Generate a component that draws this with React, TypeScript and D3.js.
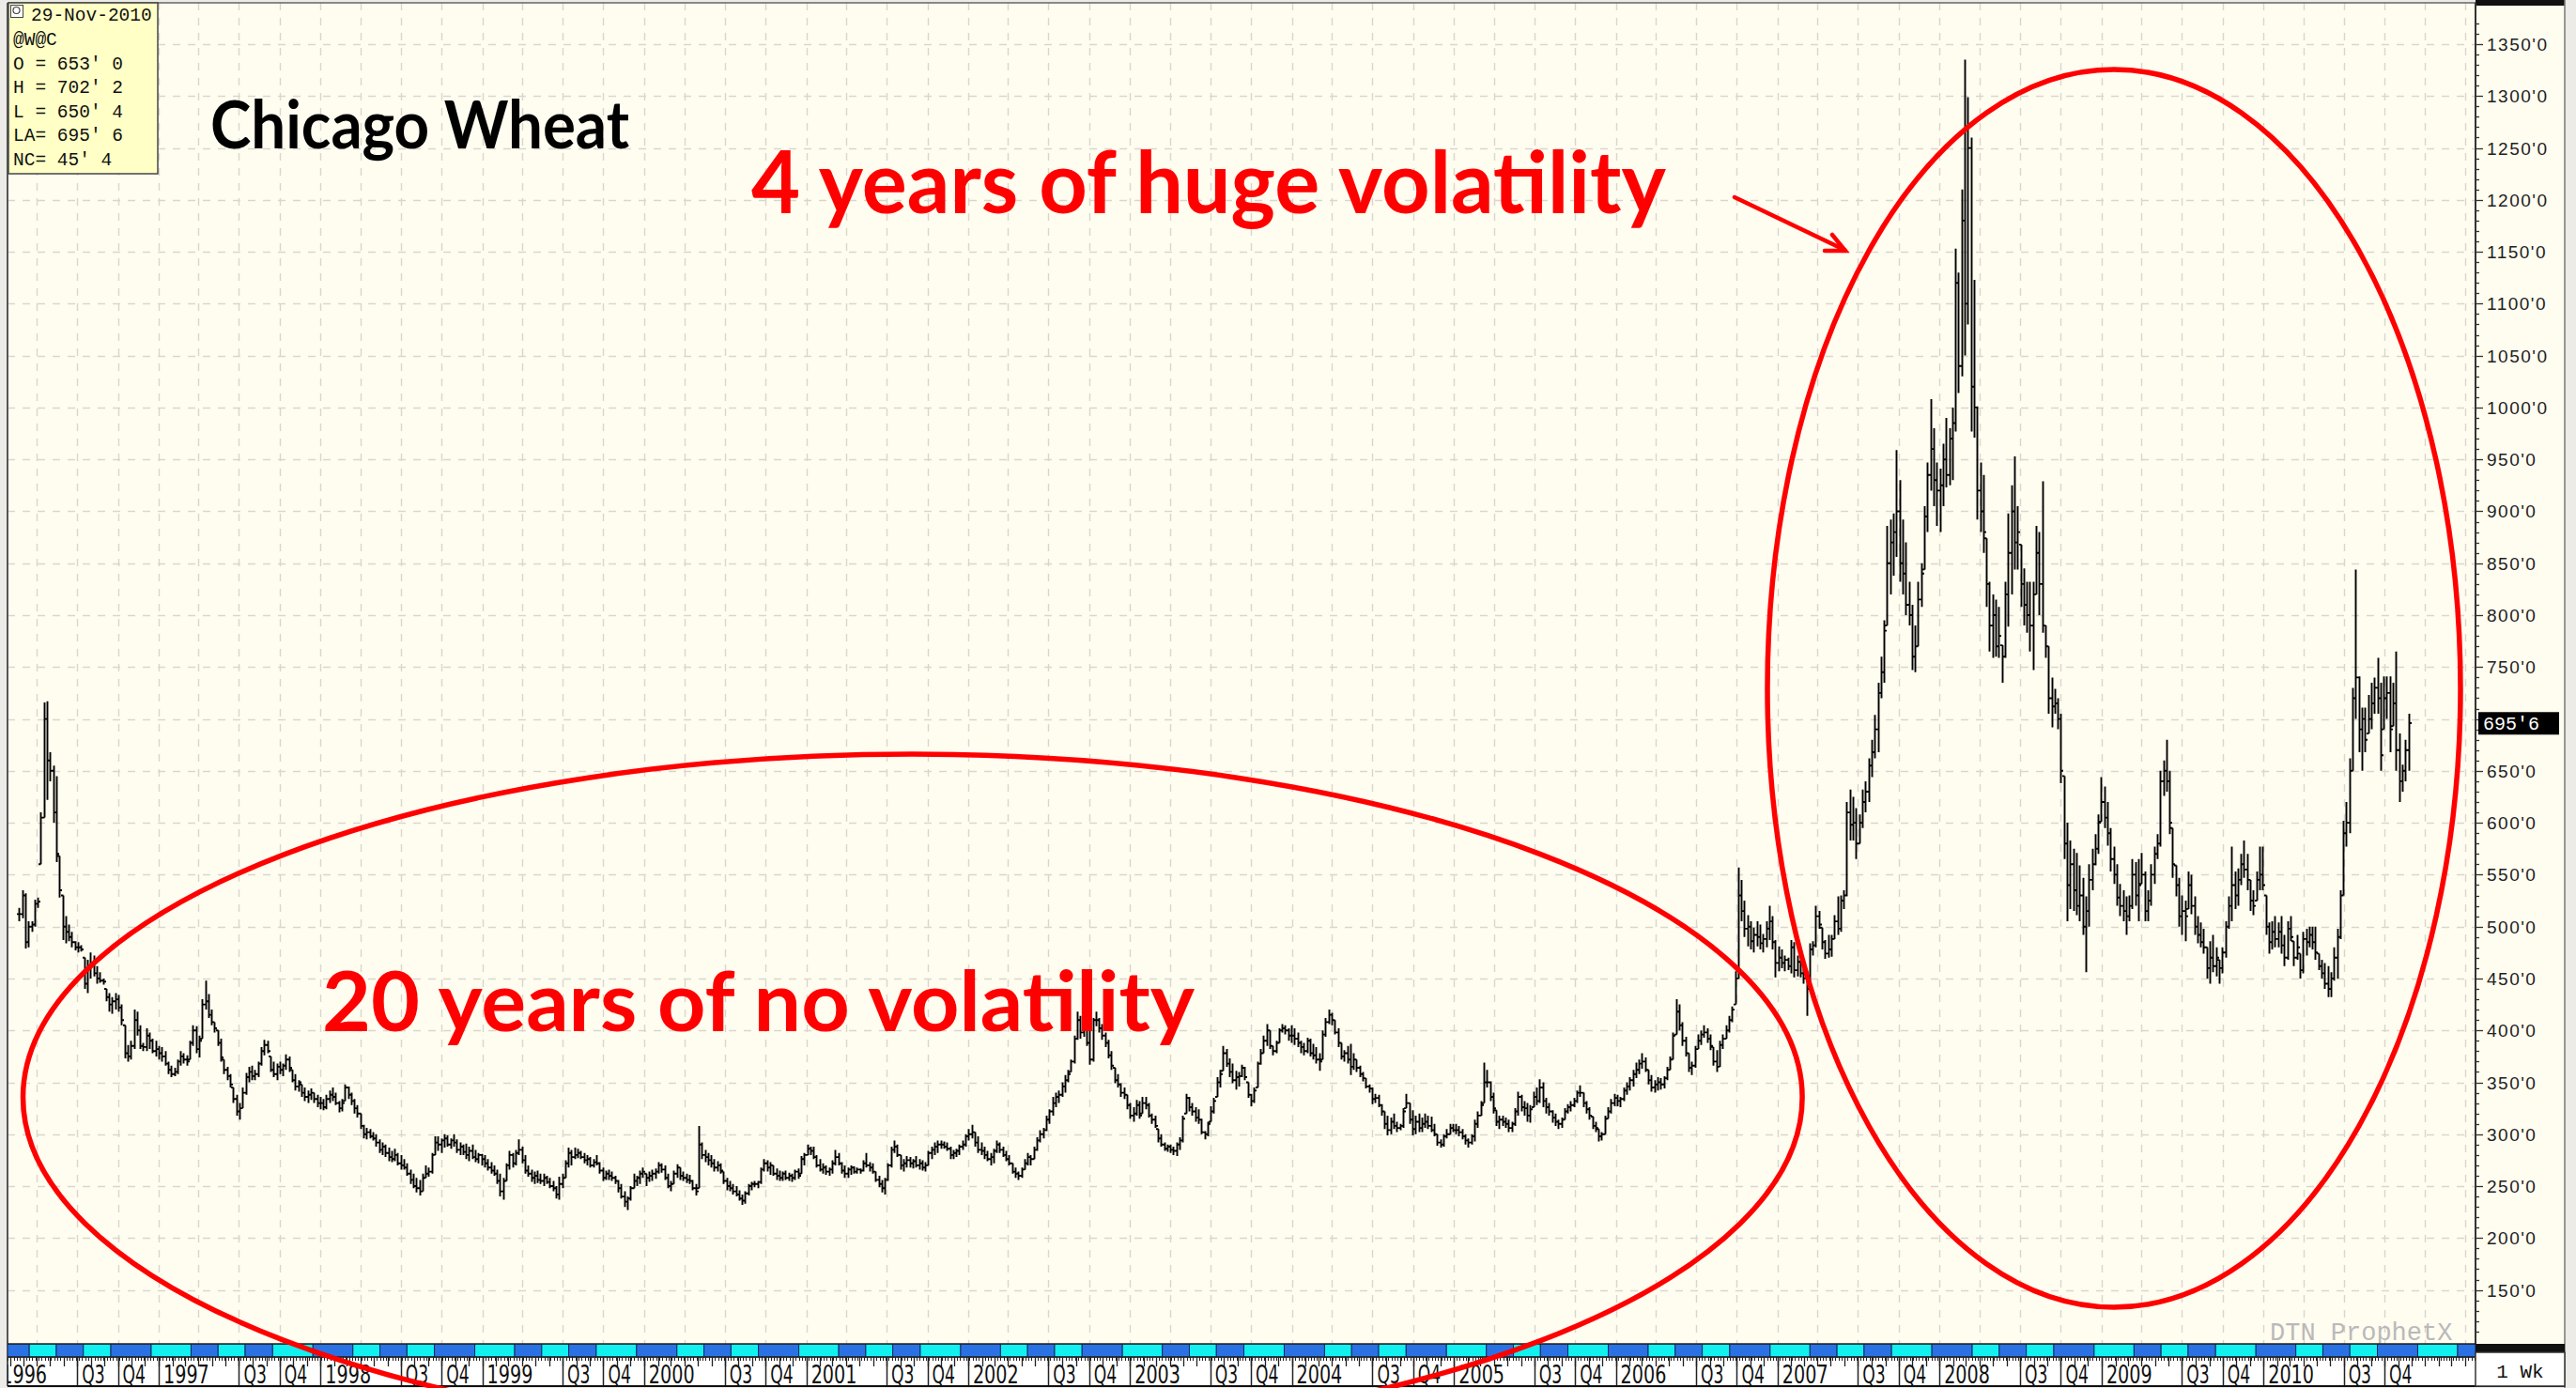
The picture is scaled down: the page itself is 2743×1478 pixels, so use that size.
import React from 'react';
import * as d3 from 'd3';

const W = 2743;
const H = 1478;

// Weekly bars, flat triples: high, low, close (cents per bushel)
const y1996 = [518,505,512, 535,508,530, 532,479,485, 505,480,500, 505,495,502, 526,500,522, 528,518,524, 610,560,605, 716,605,700, 717,622,660,
668,640,650, 655,600,610, 645,562,570, 568,528,535, 530,487,500, 510,484,495, 502,486,490, 495,480,485, 486,477,480, 485,475,480,
482,476,478, 470,440,445, 468,436,460, 475,450,465, 472,452,455, 462,445,450, 456,446,448, 450,444,447, 440,428,432, 436,418,425,
432,416,428, 436,420,430, 434,418,422, 425,405,410, 405,373,378, 386,370,375, 390,372,385, 420,382,410, 418,395,400, 405,382,385,
388,380,384, 402,380,395, 398,382,390, 392,378,380, 390,375,382];
const y1997 = [385,372,378, 384,370,375, 380,366,368, 370,358,362, 366,355,358, 364,356,360, 372,358,370, 380,366,375, 378,368,372, 376,366,370,
390,372,388, 405,385,400, 404,378,382, 395,374,390, 430,392,425, 448,420,428, 435,412,415, 420,405,408, 408,398,402, 400,385,388,
392,370,374, 372,358,362, 365,352,356, 358,345,348, 345,330,334, 338,318,322, 330,314,325, 345,325,340, 359,338,355, 365,350,360,
366,352,356, 362,352,358, 370,355,368, 384,366,380, 391,376,386, 390,378,380, 375,360,362, 370,355,358, 368,352,365, 370,358,362,
368,356,366, 377,362,372, 375,360,364, 362,350,352, 358,342,346, 352,341,350, 348,336,340, 345,332,336, 342,330,338, 344,333,340,
340,330,334, 338,326,330];
const y1998 = [336,324,330, 334,323,326, 338,324,334, 342,330,338, 345,332,336, 340,328,330, 332,321,325, 334,322,330, 348,332,345, 346,334,338,
340,328,332, 334,320,325, 328,316,320, 320,305,308, 309,296,300, 306,295,302, 305,296,298, 302,294,296, 300,288,292, 295,282,285,
292,280,288, 290,278,282, 287,274,278, 284,273,276, 286,274,280, 282,270,272, 280,266,270, 276,266,268, 272,260,262, 266,252,256,
262,248,250, 258,244,248, 256,241,245, 262,245,258, 270,258,262, 268,259,264, 282,262,280, 298,280,292, 298,284,290, 296,282,294,
300,287,296, 299,288,290, 296,286,294, 300,288,292, 295,282,285, 292,280,288, 290,280,283, 291,276,280, 288,274,284, 290,276,278,
285,273,276, 282,272,280];
const y1999 = [281,270,276, 280,268,272, 276,265,268, 273,262,265, 270,260,262, 266,252,255, 262,240,245, 258,237,255, 272,255,270, 284,266,280,
282,268,272, 285,270,282, 295,280,285, 288,272,275, 280,262,265, 270,259,262, 266,254,258, 264,252,260, 265,253,256, 262,252,255,
262,250,258, 260,252,254, 258,248,250, 255,245,248, 250,238,242, 259,237,252, 262,248,258, 275,258,272, 287,268,282, 285,270,278,
287,276,280, 286,277,282, 284,276,278, 282,272,275, 280,270,276, 278,268,270, 276,268,273, 280,270,272, 273,262,265, 268,255,258,
265,256,262, 266,256,260, 264,255,258, 260,252,255, 256,244,248, 252,238,240, 245,230,235, 240,227,238, 250,236,248, 262,248,255,
260,250,258, 265,252,262, 268,258,264];
const y2000 = [262,250,258, 264,254,260, 266,255,262, 267,257,264, 273,262,270, 272,263,266, 270,256,258, 262,248,250, 255,245,252, 265,252,262,
271,258,268, 268,256,260, 264,255,258, 262,253,256, 261,252,255, 256,246,248, 252,241,245, 308,248,290, 292,276,280, 285,273,278,
282,270,275, 280,268,272, 276,264,268, 274,264,270, 272,262,265, 264,252,255, 258,246,250, 255,245,248, 252,242,245, 250,240,242,
246,236,238, 242,232,236, 245,233,243, 252,241,250, 254,246,252, 255,249,252, 255,248,254, 268,252,266, 276,264,272, 275,264,268,
273,261,270, 270,260,262, 267,256,260, 265,255,258, 264,255,262, 265,256,258, 263,255,260, 262,254,258, 266,256,264, 267,257,260,
279,262,276, 282,270,280];
const y2001 = [290,280,286, 288,280,284, 288,276,278, 280,268,270, 276,264,266, 272,262,268, 270,261,264, 268,260,266, 275,262,272, 285,270,278,
282,270,272, 273,262,265, 270,258,262, 268,258,266, 270,261,268, 269,262,264, 268,262,266, 267,262,265, 275,264,272, 282,268,270,
273,264,268, 272,262,264, 264,254,256, 260,249,252, 256,244,248, 258,242,256, 272,255,270, 288,268,285, 294,282,288, 290,278,280,
280,266,270, 276,264,272, 279,268,275, 278,268,272, 276,267,274, 279,268,270, 276,266,272, 275,265,268, 273,264,270, 284,270,282,
288,276,285, 292,280,288, 294,282,290, 294,286,290, 293,286,288, 292,284,286, 288,276,280, 285,276,282, 286,278,284, 290,280,288,
294,285,290, 300,288,298];
const y2002 = [305,294,300, 309,296,302, 302,288,292, 298,282,285, 292,280,284, 288,276,280, 284,274,276, 282,270,278, 286,272,284, 294,282,290,
292,282,285, 288,278,280, 284,274,276, 280,270,272, 272,262,264, 268,258,262, 264,256,260, 268,258,266, 276,266,272, 282,270,278,
280,270,276, 288,276,285, 297,284,294, 304,292,300, 306,296,304, 318,303,314, 324,310,322, 336,318,330, 340,326,336, 342,330,338,
350,336,346, 357,340,352, 362,350,358, 372,360,370, 395,368,392, 418,391,410, 414,392,398, 412,394,405, 406,385,388, 400,367,372,
412,370,410, 418,404,410, 412,398,402, 406,391,395, 398,384,388, 391,373,376, 380,362,366, 364,349,352, 358,345,348, 349,336,340,
345,334,338, 338,324,328];
const y2003 = [330,315,318, 326,312,320, 333,318,328, 332,315,318, 336,320,330, 336,324,328, 330,316,318, 320,310,314, 318,306,308, 305,292,296,
300,288,290, 292,284,286, 290,283,288, 290,282,285, 288,280,284, 292,279,290, 297,285,294, 318,292,315, 339,320,335, 336,322,326,
330,318,322, 326,312,316, 324,310,314, 315,300,302, 303,295,300, 312,298,310, 327,312,322, 335,320,332, 355,336,350, 362,345,358,
385,361,378, 382,365,368, 373,355,360, 368,349,352, 361,343,355, 360,346,356, 367,355,364, 365,352,355, 350,335,338, 339,327,332,
345,330,342, 370,345,368, 382,367,378, 395,378,390, 406,385,400, 400,382,385, 385,376,380, 390,378,388, 402,388,400, 406,398,402,
405,396,400, 402,390,395];
const y2004 = [405,388,395, 402,386,392, 398,384,388, 390,378,384, 388,376,380, 393,378,390, 392,375,378, 387,372,376, 384,368,372, 378,361,370,
400,372,396, 412,394,408, 420,406,415, 417,405,410, 410,396,398, 402,384,388, 388,372,375, 381,370,378, 385,368,372, 387,357,365,
378,362,372, 372,360,364, 366,355,358, 360,351,354, 354,344,346, 348,340,344, 345,329,334, 339,330,335, 338,326,328, 329,318,322,
322,305,310, 318,299,304, 316,300,312, 320,305,308, 312,302,306, 310,304,308, 325,306,322, 339,325,330, 330,310,314, 323,299,305,
318,300,312, 320,302,306, 316,302,310, 320,306,312, 318,305,308, 317,302,304, 310,298,300, 300,289,292, 295,287,290, 300,288,298,
305,296,300, 310,300,306, 310,302,304];
const y2005 = [310,300,304, 308,298,302, 305,295,298, 300,290,294, 296,287,292, 300,290,298, 314,293,310, 322,306,318, 332,318,328, 369,330,350,
362,345,350, 351,332,336, 340,320,325, 323,308,312, 318,305,314, 318,308,312, 316,306,310, 314,302,306, 312,302,310, 325,308,322,
341,318,336, 338,322,326, 332,318,325, 330,312,318, 328,311,324, 341,326,336, 345,328,332, 353,330,345, 350,326,332, 335,320,326,
330,318,322, 323,311,316, 320,308,312, 314,305,310, 316,306,314, 325,314,322, 329,320,326, 332,322,328, 335,326,332, 342,330,340,
347,336,340, 340,326,330, 332,320,324, 326,314,318, 317,305,308, 312,302,306, 305,293,298, 302,294,300, 318,300,315, 326,315,322,
334,320,330, 339,327,335];
const y2006 = [338,327,332, 336,326,334, 345,332,342, 350,338,346, 355,342,352, 362,346,358, 369,354,362, 372,358,368, 378,363,370, 374,360,362,
362,348,352, 357,341,345, 352,340,348, 355,342,350, 354,343,348, 356,344,354, 365,352,362, 375,362,372, 398,372,395, 430,396,418,
425,400,405, 408,385,390, 394,375,378, 378,360,364, 370,357,366, 385,364,382, 396,382,390, 400,386,396, 405,393,398, 402,388,392,
396,381,385, 384,366,370, 381,360,365, 390,365,386, 396,382,392, 405,392,400, 414,398,410, 423,408,420, 457,425,450, 557,450,530,
545,505,515, 525,490,498, 511,481,500, 505,478,486, 499,475,492, 505,481,490, 502,478,484, 493,475,488, 505,480,498, 520,487,505,
510,478,485, 487,451,465];
const y2007 = [481,457,470, 478,460,465, 472,457,468, 470,458,462, 487,455,480, 485,451,458, 472,452,466, 468,451,455, 459,445,450, 457,414,440,
484,440,478, 486,472,482, 520,480,510, 515,498,502, 499,478,485, 487,469,474, 492,470,478, 492,471,488, 511,488,505, 529,492,498,
530,495,525, 535,517,530, 620,529,610, 632,583,598, 625,583,600, 614,565,580, 608,580,600, 632,595,620, 640,610,630, 662,620,655,
680,644,668, 704,662,690, 735,668,725, 760,720,745, 795,735,785, 886,790,850, 892,820,870, 898,838,880, 959,856,900, 930,832,850,
892,820,840, 870,800,810, 832,790,800, 810,747,760, 790,745,770, 832,770,815, 850,808,840, 905,844,895, 947,880,935, 1008,920,960,
980,905,930, 947,886,920];
const y2008 = [941,880,925, 965,905,950, 990,923,935, 980,925,970, 1000,930,985, 1153,977,1120, 1130,1014,1040, 1210,1030,1180, 1335,1050,1100, 1299,1080,1250,
1260,977,1020, 1123,971,1000, 1001,892,920, 947,880,900, 935,860,880, 874,808,830, 832,765,790, 820,759,800, 815,760,770, 808,759,780,
771,735,760, 832,759,820, 898,789,860, 925,820,900, 953,844,870, 905,844,880, 868,808,830, 845,790,810, 832,783,800, 832,765,790,
832,747,820, 886,820,860, 880,800,830, 929,783,790, 790,759,770, 770,705,720, 740,692,712, 729,705,715, 720,690,700, 705,638,650,
645,565,580, 600,505,540, 583,517,560, 575,515,535, 571,511,520, 559,505,530, 547,492,500, 529,456,515, 560,500,545, 575,535,560,
589,559,575, 608,570,600];
const y2009 = [644,601,620, 635,595,605, 620,578,590, 595,553,565, 577,541,550, 560,520,528, 541,510,520, 535,505,515, 529,492,510, 530,505,520,
565,517,550, 562,520,530, 565,505,540, 571,541,550, 553,505,515, 535,505,525, 560,520,550, 577,541,570, 589,565,580, 650,577,640,
660,626,650, 680,630,640, 650,589,600, 595,547,560, 559,529,540, 547,500,510, 530,492,515, 525,486,510, 553,517,540, 550,512,520,
529,492,500, 510,484,492, 504,480,485, 498,474,480, 480,450,460, 486,445,470, 492,456,462, 480,452,470, 468,445,460, 480,455,475,
505,470,500, 529,498,520, 577,505,540, 553,517,530, 556,520,545, 570,540,560, 583,547,555, 570,535,545, 545,515,525, 535,511,520,
553,525,545, 577,535,550];
const y2010 = [577,535,540, 530,492,500, 504,474,485, 505,478,495, 510,480,488, 504,480,495, 510,474,482, 492,462,470, 505,468,498, 510,486,490,
486,462,470, 492,468,480, 474,450,458, 495,455,488, 498,472,485, 500,480,492, 500,478,485, 500,468,475, 474,458,462, 468,450,455,
465,440,445, 462,432,440, 456,432,450, 480,448,470, 498,450,490, 535,488,530, 602,530,590, 620,577,600, 662,590,650, 730,650,720,
844,700,740, 741,668,690, 711,650,700, 711,668,680, 723,686,700, 735,690,715, 740,705,730, 759,705,720, 735,650,665, 741,690,720,
741,700,725, 741,668,690, 735,693,715, 765,650,670, 686,620,640, 656,630,650, 680,640,670, 705,650,696];

const yearlyBars = [y1996, y1997, y1998, y1999, y2000, y2001, y2002, y2003, y2004, y2005, y2006, y2007, y2008, y2009, y2010];
const firstYear = 1996;
const firstBarDate = new Date(1996, 1, 23);

const priceTicks = d3.range(150, 1351, 50);
const quarterNames = ['', '', 'Q3', 'Q4'];
const contractRollMonths = [2, 4, 6, 8, 11]; // H K N U Z
const infoDate = '29-Nov-2010';
const infoLines = ['@W@C', "O = 653' 0", "H = 702' 2", "L = 650' 4", "LA= 695' 6", "NC= 45' 4"];
const lastPrice = 695.75;
const lastPriceLabel = "695'6";
const lastAxisLabelDate = new Date(2010, 9, 1);
const title = 'Chicago Wheat';
const note1 = '4 years of huge volatility';
const note2 = '20 years of no volatility';

// layout
const PL = 8, PR = 2636, PT = 3, PB = 1431;
const STRIP_B = 1445, AXIS_B = 1476, PANEL_R = 2731;

export default function App() {
  const x = d3.scaleTime().domain([new Date(1997, 0, 1), new Date(2010, 0, 1)]).range([169, 2410.2]);
  const y = d3.scaleLinear().domain([150, 1350]).range([1373.6, 47]);
  const d0 = x.invert(PL);
  const d1 = x.invert(PR);

  // bars
  let path = '';
  let prevClose: number | null = null;
  yearlyBars.forEach((arr, yi) => {
    const start = yi === 0 ? firstBarDate : d3.timeFriday.ceil(new Date(firstYear + yi, 0, 1));
    for (let i = 0; i < arr.length / 3; i++) {
      const hi = arr[i * 3], lo = arr[i * 3 + 1], cl = arr[i * 3 + 2];
      const op = prevClose === null ? cl : Math.max(lo, Math.min(hi, prevClose));
      const dt = d3.timeDay.offset(start, i * 7 - 2);
      const bx = Math.round(x(dt)) + 0.5;
      path += `M${bx},${y(hi).toFixed(1)}V${y(lo).toFixed(1)}`;
      path += `M${bx - 2.5},${y(op).toFixed(1)}H${bx}`;
      path += `M${bx},${y(cl).toFixed(1)}H${bx + 2.5}`;
      prevClose = cl;
    }
  });

  const quarters = d3.timeMonth.every(3)!.range(d0, d1);
  const months = d3.timeMonth.range(d0, d1);
  const weeks = d3.timeFriday.range(d0, d1);

  // contract strip
  const rolls: Date[] = [];
  for (let yr = 1996; yr <= 2011; yr++) {
    contractRollMonths.forEach((m) => rolls.push(new Date(yr, m, 15)));
  }
  const rollIn = rolls.filter((r) => r > d0 && r < d1);
  const edges = [PL, ...rollIn.map((r) => x(r)), PR];
  const stripSegs = edges.slice(0, -1).map((e, i) => ({ x0: e, x1: edges[i + 1], c: i % 2 === 0 ? '#2a72e4' : '#12f0f0' }));

  // axis label separators at Jan, Jul, Oct
  const seps = months.filter((m) => (m.getMonth() === 0 || m.getMonth() === 6 || m.getMonth() === 9) && m <= lastAxisLabelDate);
  const sepsAll = [new Date(1996, 0, 1), ...seps];

  const labelFont = "'DejaVu Sans Condensed', 'DejaVu Sans', sans-serif";
  const monoFont = "'Liberation Mono', 'DejaVu Sans Mono', monospace";
  const yLast = y(lastPrice);

  return (
    <svg width={W} height={H} style={{ position: 'absolute', left: 0, top: 0, display: 'block' }} xmlns="http://www.w3.org/2000/svg">
      <defs>
        <clipPath id="plotClip"><rect x={PL} y={PT} width={PR - PL} height={PB - PT} /></clipPath>
        <clipPath id="axisClip"><rect x={PL} y={PB} width={PR - PL} height={H - PB} /></clipPath>
      </defs>
      <rect x={0} y={0} width={W} height={H} fill="#ecebe7" />
      <rect x={PL} y={PT} width={PR - PL} height={PB - PT} fill="#fffcf0" />
      <g clipPath="url(#plotClip)" stroke="#d9d6cd" strokeWidth={1.4} strokeDasharray="8 8">
        {priceTicks.map((v) => (
          <line key={'h' + v} x1={PL} x2={PR} y1={Math.round(y(v)) + 0.5} y2={Math.round(y(v)) + 0.5} />
        ))}
        {quarters.map((q) => (
          <line key={'v' + q.getTime()} x1={Math.round(x(q)) + 0.5} x2={Math.round(x(q)) + 0.5} y1={PT} y2={PB} />
        ))}
      </g>
      <g clipPath="url(#plotClip)">
        <path d={path} fill="none" stroke="#000" strokeWidth={1.9} />
      </g>
      <line x1={PL} x2={PL} y1={PT} y2={AXIS_B} stroke="#555" strokeWidth={2} />
      <line x1={PL} x2={PR} y1={PT} y2={PT} stroke="#666" strokeWidth={1.5} />
      <text x={2417} y={1427} fontFamily={monoFont} fontSize={27} fill="#b9b9b9">DTN ProphetX</text>

      {/* right price panel */}
      <rect x={PR} y={PT} width={PANEL_R - PR} height={PB - PT} fill="#fffcf0" />
      <rect x={PR} y={0} width={PANEL_R - PR} height={6} fill="#111" />
      <line x1={PR} x2={PR} y1={PT} y2={PB} stroke="#333" strokeWidth={2} />
      <line x1={PANEL_R} x2={PANEL_R} y1={0} y2={H} stroke="#777" strokeWidth={1.5} />
      <g stroke="#333" strokeWidth={1.3}>
        {d3.range(110, 1371, 10).map((v) => (
          <line key={'t' + v} x1={PR} x2={PR + (v % 50 === 0 ? 8 : 4)} y1={Math.round(y(v)) + 0.5} y2={Math.round(y(v)) + 0.5} />
        ))}
      </g>
      <g fontFamily="'Liberation Sans', Arial, sans-serif" fontSize={19} fill="#222" letterSpacing={1.5}>
        {priceTicks.filter((v) => Math.abs(y(v) - yLast) > 16).map((v) => (
          <text key={'l' + v} x={PR + 12} y={y(v) + 7}>{`${v}'0`}</text>
        ))}
      </g>
      <rect x={PR + 3} y={yLast - 12} width={86} height={24} fill="#000" />
      <text x={PR + 8} y={yLast + 7} fontFamily={monoFont} fontSize={20} fill="#fff">{lastPriceLabel}</text>

      {/* contract strip */}
      <g clipPath="url(#axisClip)">
        {stripSegs.map((s, i) => (
          <rect key={'s' + i} x={s.x0} y={PB} width={s.x1 - s.x0} height={STRIP_B - PB} fill={s.c} stroke="#0b2a60" strokeWidth={1} />
        ))}
      </g>
      <line x1={PL} x2={PR} y1={PB} y2={PB} stroke="#222" strokeWidth={1.5} />
      <line x1={PL} x2={PR} y1={STRIP_B} y2={STRIP_B} stroke="#222" strokeWidth={1.5} />
      <rect x={PL + 1} y={STRIP_B + 1} width={PR - PL - 1} height={AXIS_B - STRIP_B - 1} fill="#ffffff" />
      <g clipPath="url(#axisClip)" stroke="#222">
        {weeks.map((w) => (
          <line key={'w' + w.getTime()} x1={Math.round(x(w)) + 0.5} x2={Math.round(x(w)) + 0.5} y1={STRIP_B} y2={STRIP_B + 4} strokeWidth={1} />
        ))}
        {months.map((m) => (
          <line key={'m' + m.getTime()} x1={Math.round(x(m)) + 0.5} x2={Math.round(x(m)) + 0.5} y1={STRIP_B} y2={STRIP_B + 10} strokeWidth={1.3} />
        ))}
        {sepsAll.map((m) => (
          <line key={'q' + m.getTime()} x1={Math.round(x(m)) + 0.5} x2={Math.round(x(m)) + 0.5} y1={STRIP_B} y2={AXIS_B} strokeWidth={1.5} />
        ))}
      </g>
      <g clipPath="url(#axisClip)" fontFamily={labelFont} fontSize={27} fill="#111">
        {sepsAll.map((m) => {
          const mo = m.getMonth();
          const label = mo === 0 ? String(m.getFullYear()) : quarterNames[Math.floor(mo / 3)];
          return (
            <text key={'lab' + m.getTime()} x={x(m) + 5} y={AXIS_B - 3} textLength={label.length * 12.2} lengthAdjust="spacingAndGlyphs">{label}</text>
          );
        })}
      </g>
      <line x1={PL} x2={PANEL_R} y1={AXIS_B} y2={AXIS_B} stroke="#111" strokeWidth={2} />
      <rect x={PR} y={PB} width={PANEL_R - PR} height={9} fill="#111" />
      <rect x={PR} y={PB + 9} width={PANEL_R - PR} height={AXIS_B - PB - 9} fill="#ffffff" stroke="#333" strokeWidth={1.5} />
      <text x={(PR + PANEL_R) / 2} y={AXIS_B - 9} textAnchor="middle" fontFamily={monoFont} fontSize={21} fill="#111">1 Wk</text>

      {/* info box */}
      <rect x={9} y={3} width={159} height={182} fill="#ffffc6" stroke="#444" strokeWidth={1.5} />
      <rect x={11.5} y={5.5} width={13} height={13} fill="#fff" stroke="#444" strokeWidth={1} />
      <circle cx={17.5} cy={11} r={3.5} fill="none" stroke="#444" strokeWidth={1.2} />
      <g fontFamily={monoFont} fontSize={19.5} fill="#111">
        <text x={33} y={22}>{infoDate}</text>
        {infoLines.map((t, i) => (
          <text key={'i' + i} x={14} y={48 + i * 25.6} xmlSpace="preserve">{t}</text>
        ))}
      </g>

      {/* annotations */}
      <text x={224} y={158} fontFamily="Lato, 'Open Sans', sans-serif" fontWeight={700} fontSize={70} fill="#000" textLength={446} lengthAdjust="spacingAndGlyphs">{title}</text>
      <text x={800} y={227} fontFamily="Lato, 'Open Sans', sans-serif" fontWeight={700} fontSize={92} fill="#ff0000" textLength={974} lengthAdjust="spacingAndGlyphs">{note1}</text>
      <text x={343} y={1098} fontFamily="Lato, 'Open Sans', sans-serif" fontWeight={700} fontSize={88} fill="#ff0000" textLength={929} lengthAdjust="spacingAndGlyphs">{note2}</text>
      <g stroke="#ff0000" strokeWidth={4.5} fill="none" strokeLinecap="round">
        <line x1={1847} y1={210} x2={1964} y2={266} />
        <polyline points="1951,250 1965,267 1943,267" />
      </g>
      <ellipse cx={971.8} cy={1168.6} rx={947.3} ry={365.6} fill="none" stroke="#ff0000" strokeWidth={5.5} />
      <ellipse cx={2251} cy={733} rx={369} ry={659} fill="none" stroke="#ff0000" strokeWidth={5.5} />
    </svg>
  );
}
